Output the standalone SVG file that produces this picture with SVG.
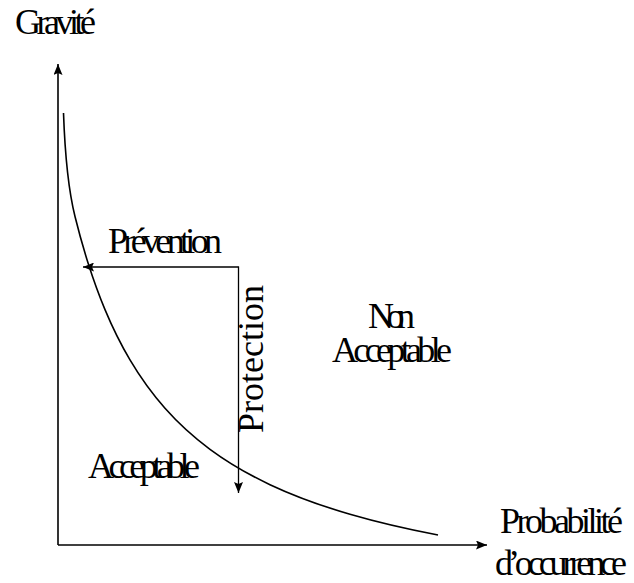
<svg xmlns="http://www.w3.org/2000/svg" width="634" height="583" viewBox="0 0 634 583">
<style>
text{font-family:"Liberation Serif","Times New Roman",serif;font-size:36px;fill:#000}
.ax{stroke:#000;stroke-width:1.6;fill:none}
.ln{stroke:#000;stroke-width:1.3;fill:none}
.cv{stroke:#000;stroke-width:1.6;fill:none}
</style>
<defs>
<marker id="ah" markerUnits="userSpaceOnUse" markerWidth="12" markerHeight="9" refX="11" refY="4.5" orient="auto">
<path d="M0,0 L11,4.5 L0,9 L2,4.5 z" fill="#000"/>
</marker>
</defs>
<g id="axes">
<line class="ax" x1="58" y1="545" x2="58" y2="64" marker-end="url(#ah)"/>
<line class="ax" x1="58" y1="545" x2="487" y2="545" marker-end="url(#ah)"/>
</g>
<g id="curve">
<path class="cv" d="M63.5,113 C64.8,150 69,192.3 75,216.5 C79.43,234.36 83.87,249.85 88.3,263.8 C93.87,281.31 99.43,296.34 105,309.67 C113.33,329.63 121.67,345.88 130,359.96 C141.67,379.68 153.33,395.12 165,408.27 C180,425.17 195,438.25 210,449.33 C230,464.1 250,475.27 270,484.66 C296.67,497.18 323.33,506.48 350,514.24 C379.33,522.78 408.67,529.38 438,534.99"/>
</g>
<g id="connectors">
<line class="ln" x1="238.5" y1="267" x2="83" y2="267" marker-end="url(#ah)"/>
<line class="ln" x1="238.5" y1="266.4" x2="238.5" y2="493" marker-end="url(#ah)"/>
</g>
<g id="labels">
<text x="15" y="34" textLength="81" lengthAdjust="spacing">Gravité</text>
<text x="108" y="253" textLength="114" lengthAdjust="spacing">Prévention</text>
<text transform="translate(263,433) rotate(-90)" x="0" y="0" textLength="148" lengthAdjust="spacing">Protection</text>
<text x="368" y="328" textLength="47" lengthAdjust="spacing">Non</text>
<text x="332" y="362" textLength="120" lengthAdjust="spacing">Acceptable</text>
<text x="88" y="478" textLength="112" lengthAdjust="spacing">Acceptable</text>
<text x="500" y="533" textLength="123" lengthAdjust="spacing">Probabilité</text>
<text x="495" y="575" textLength="132" lengthAdjust="spacing">d’occurrence</text>
</g>
</svg>
